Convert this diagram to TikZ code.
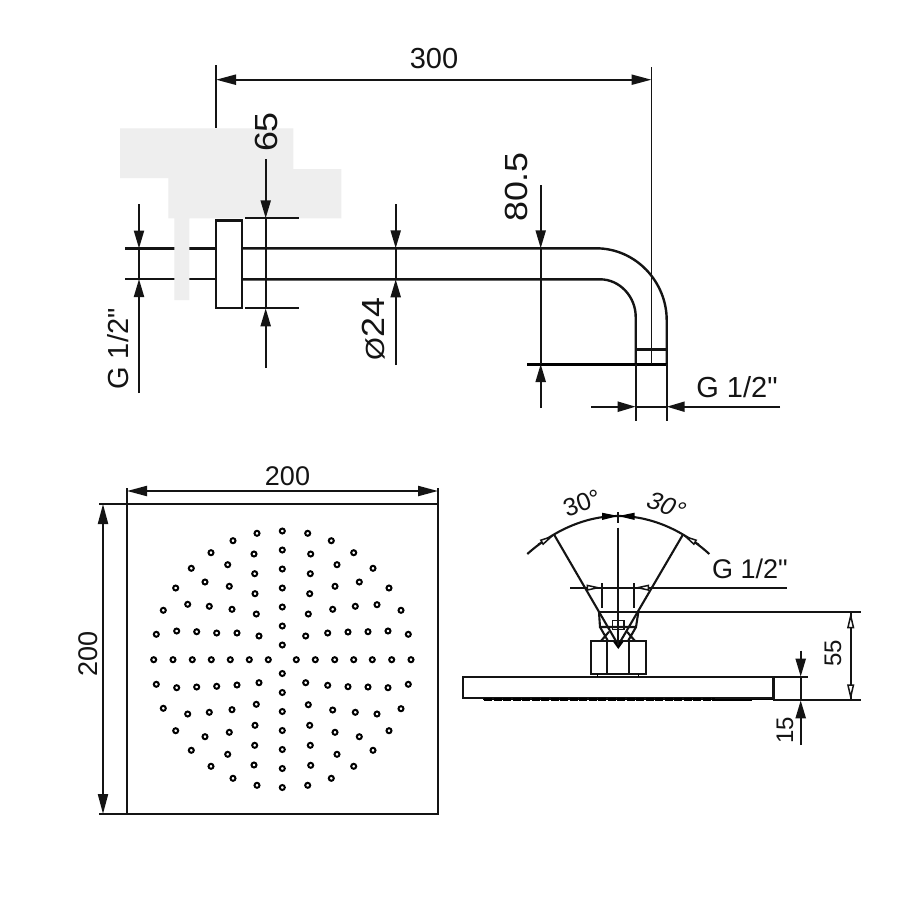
\documentclass[tikz,border=0pt]{standalone}
\usepackage{fontspec}
\setmainfont{Liberation Sans}
\newfontfamily\plainf{Liberation Sans}
\usetikzlibrary{arrows.meta}
\tikzset{
  ln/.style={line width=2.1pt,black!92},
  hv/.style={line width=2.4pt,black!92},
  tn/.style={line width=1.5pt,black!92},
  tip/.style={-{Triangle[length=18pt,width=10pt]}},
  bitip/.style={{Triangle[length=20pt,width=10pt]}-{Triangle[length=20pt,width=10pt]}},
  lab/.style={inner sep=0pt,text=black!92,font=\plainf\fontsize{29}{29}\selectfont},
  slab/.style={inner sep=0pt,text=black!92,font=\plainf\fontsize{24}{24}\selectfont},
  big/.style={inner sep=0pt,text=black!92,font=\plainf\fontsize{32}{32}\selectfont,yscale=1.12},
  hole/.style={line width=2pt,black,fill=white},
}
\newcommand{\hl}[2]{\draw[hole] (#1,#2) circle (2.5pt);}
\begin{document}
\begin{tikzpicture}[x=1pt,y=-1pt]
\useasboundingbox (0,0) rectangle (900,900);
\fill[white] (0,0) rectangle (900,900);
% ---- top view: wall-arm ----
\draw[ln] (125,248.5) -- (216,248.5);
\draw[ln] (125,279) -- (216,279);
\draw[ln] (216,65) -- (216,128);
% grey masks
\fill[black!6.5] (120,128.3) -- (293.3,128.3) -- (293.3,169) -- (341.3,169) -- (341.3,218.3) -- (189.3,218.3) -- (189.3,300) -- (174.3,300) -- (174.3,218.3) -- (168.3,218.3) -- (168.3,178) -- (120,178) -- cycle;
% flange
\draw[ln] (216,220.5) rectangle (242.3,307.7);
% pipe
\draw[hv] (242.3,248.3) -- (596,248.3) .. controls (636,248.3) and (666.7,282) .. (666.7,320) -- (666.7,364);
\draw[hv] (242.3,279.3) -- (600,279.3) .. controls (620,279.3) and (635.7,297) .. (635.7,316.7) -- (635.7,364);
\draw[hv] (635.7,349.5) -- (666.7,349.5);
\draw[line width=3pt] (527,364) -- (667,364);
% 300
\draw[line width=1.7pt,black!92] (651.5,67) -- (651.5,364);
\draw[ln,bitip] (216,79.7) -- (651.5,79.7);
\node[lab] (t300) at (434,58.5) {300};
% 65
\draw[ln,tip] (265.7,159) -- (265.7,218.3);
\draw[ln] (245,218.3) -- (299,218.3);
\draw[ln] (245,308.3) -- (299,308.3);
\draw[ln] (265.7,218.3) -- (265.7,308.3);
\draw[ln,tip] (265.7,368) -- (265.7,308.3);
\node[big,rotate=90] (t65) at (266,132) {65};
% dia 24
\draw[ln,tip] (395.7,204) -- (395.7,248.3);
\draw[ln] (395.7,248.3) -- (395.7,279.3);
\draw[ln,tip] (395.7,365) -- (395.7,279.3);
\node[big,rotate=90] (t24) at (373.5,329) {\scalebox{0.82}{Ø}24};
% G 1/2 left
\draw[ln,tip] (139,204) -- (139,248.5);
\draw[ln] (139,248.5) -- (139,279);
\draw[ln,tip] (139,393) -- (139,279);
\node[lab,rotate=90] (tgl) at (118.5,349) {G 1/2"};
% 80.5
\draw[ln,tip] (540.7,185) -- (540.7,248.3);
\draw[ln] (540.7,248.3) -- (540.7,364);
\draw[ln,tip] (540.7,408) -- (540.7,364);
\node[big,rotate=90] (t805) at (516.5,187) {80.5};
% G 1/2 lower right
\draw[ln] (635.7,364) -- (635.7,421);
\draw[ln] (666.7,364) -- (666.7,421);
\draw[ln,tip] (591,406.7) -- (635.7,406.7);
\draw[ln] (635.7,406.7) -- (666.7,406.7);
\draw[ln,tip] (780,406.7) -- (666.7,406.7);
\node[lab] (tgr) at (737,387) {G 1/2"};
% ---- front view: square ----
\draw[ln] (127,504) rectangle (438,814);
\draw[ln] (99,503.8) -- (127,503.8);
\draw[ln] (99,814) -- (127,814);
\draw[ln] (127,488) -- (127,504);
\draw[ln] (438,488) -- (438,504);
\draw[ln,bitip] (127,491) -- (438,491);
\draw[ln,bitip] (103,504) -- (103,814);
\node[lab,font=\plainf\fontsize{27}{27}\selectfont] (t200a) at (287.5,476) {200};
\node[lab,font=\plainf\fontsize{27}{27}\selectfont,rotate=90] (t200b) at (88,654) {200};
% holes: centre column
\foreach \y in {531,550,569,588,607,626,645,673.5,692.5,711.5,730.5,749.5,768.5,787.5} {\hl{282.3}{\y}}
% holes: centre row
\foreach \x in {153.7,173,192.3,211.3,230.3,249.3,268.3,296.3,315.3,334.7,353.7,372.3,391.7,411} {\hl{\x}{659.7}}
% upper-left quadrant
\foreach \x/\y in {257/533.3,233/540.7,211/552.7,191.3/568.3,175.7/588,163.3/610.3,156.3/634.3,
 254/554,227.7/564.7,205/582,187.7/604.3,176.7/631,
 254.7/573.7,229.3/586.3,209.3/606.3,196.7/631.7,
 255/593.7,232/609.3,216.7/633,
 256.3/614,237/633,
 259/636} {\hl{\x}{\y}}
% upper-right quadrant
\foreach \x/\y in {307.7/533.3,331.3/540.7,353.7/552.7,373/568.3,389/588,401/610.3,408.3/634.3,
 310.7/554,337/564.7,359.3/582,377/604.7,388/631,
 310.3/573.7,335/586.3,355.3/606.3,368/631.7,
 309.7/593.7,332.7/609.3,348/632,
 308.3/614,327.7/633,
 305.7/636} {\hl{\x}{\y}}
% lower-left quadrant
\foreach \x/\y in {156.3/684.3,176.7/687.7,196.7/687,216.7/686.3,237/685,259/682.7,
 163.3/708.3,187.7/714,209.3/712.3,232/709.7,256.3/704.3,
 175.7/730.7,205/736.7,229.3/732.3,255/725.3,
 191.3/750.3,227.7/754.3,254.7/745.3,
 211/766.3,254/765,
 233/778.3,
 257/785.3} {\hl{\x}{\y}}
% lower-right quadrant
\foreach \x/\y in {305.7/682.7,327.7/685.3,348/686.7,368/687,388/687.7,408.3/684.3,
 308.3/704.7,332.7/710,355.3/712.3,377/714,401/708.7,
 309.7/725.3,335/732.3,359.3/736.7,389/730.7,
 310.3/745.3,337/754.3,373/750.3,
 310.7/765.3,353.7/766.3,
 331.3/778.3,
 307.7/785.3} {\hl{\x}{\y}}
% ---- side view ----
% plate
\draw[hv] (462.7,676.7) rectangle (773.3,697.7);
\draw[ln] (773.3,676.7) -- (808,676.7);
\draw[line width=1.2pt] (483,699.5) -- (773.3,699.5);
\draw[line width=2.8pt,dash pattern=on 8pt off 1.5pt] (484,699.8) -- (715,699.8);
\draw[line width=2pt] (715,699.8) -- (752,699.8);
\draw[ln] (773.3,700.3) -- (861,700.3);
% block
\draw[hv] (590.7,641) rectangle (645.7,674);
\draw[ln] (606.7,641) -- (606.7,674);
\draw[ln] (629.3,641) -- (629.3,674);
\draw[line width=1pt] (597,674) -- (597,676.7) (638.3,674) -- (638.3,676.7);
% nut
\draw[ln] (599,612.3) -- (600,627) -- (636,627) -- (638.3,612.3);
\draw[tn] (612.3,620.7) rectangle (624,629.3);
\draw[ln] (600,627) -- (608,641) (609,631.7) -- (601,641);
\draw[ln] (636,627) -- (628,641) (627,631.7) -- (635,641);
% spokes
\coordinate (apex) at (618.3,645);
\coordinate (spL) at (554.3,535);
\coordinate (spR) at (682.7,535);
\draw[ln] (spL) -- (apex) -- (spR);
\fill[black] (613,641.6) -- (623.6,641.6) -- (618.3,649) -- cycle;
\draw[ln] (618.3,512) -- (618.3,522.5);
\draw[ln] (618.3,527.5) -- (618.3,645);
% arc
\draw[ln] (527.3,554) .. controls (553,531) and (585,516) .. (618.3,516) .. controls (652,516) and (684,531) .. (709.3,554);
\draw[tn,{Triangle[length=15pt,width=6pt,fill=white]}-] (554.3,535) -- (538,544.5);
\draw[tn,{Triangle[length=15pt,width=6pt,fill=white]}-] (682.7,535) -- (699,544.5);
\fill[black] (618.3,516) -- (602,512.7) -- (602,520) -- cycle;
\fill[black] (618.3,516) -- (634.6,512.7) -- (634.6,520) -- cycle;
% dims of G 1/2 above
\draw[ln] (570,587.7) -- (787,587.7);
\draw[ln] (601.7,583) -- (601.7,608);
\draw[ln] (634,583) -- (634,608);
\draw[tn,-{Triangle[length=15pt,width=6pt,fill=white]}] (586,587.7) -- (601.7,587.7);
\draw[tn,-{Triangle[length=15pt,width=6pt,fill=white]}] (650,587.7) -- (634,587.7);
\draw[ln] (598,612.3) -- (861,612.3);
% 55
\draw[ln] (850.7,612.3) -- (850.7,700.3);
\draw[tn,-{Triangle[length=16pt,width=7pt,fill=white]}] (850.7,630) -- (850.7,612.3);
\draw[tn,-{Triangle[length=16pt,width=7pt,fill=white]}] (850.7,682) -- (850.7,700.3);
% 15
\draw[ln,tip] (800.7,650.7) -- (800.7,676.7);
\draw[ln] (800.7,676.7) -- (800.7,700.3);
\draw[ln,tip] (800.7,745) -- (800.7,700.3);
\node[slab,rotate=90] (t55) at (833,653) {55};
\node[slab,rotate=90] (t15) at (785,730) {15};
\node[lab,font=\plainf\fontsize{27}{27}\selectfont] (tgt) at (750,569) {G 1/2"};
\node[slab,font=\plainf\fontsize{25}{25}\selectfont,rotate=20] (t30a) at (582,503) {30°};
\node[slab,rotate=-20,font=\plainf\fontsize{25}{25}\selectfont\addfontfeature{FakeSlant=0.2}] (t30b) at (665,505) {30°};
\end{tikzpicture}
\end{document}
